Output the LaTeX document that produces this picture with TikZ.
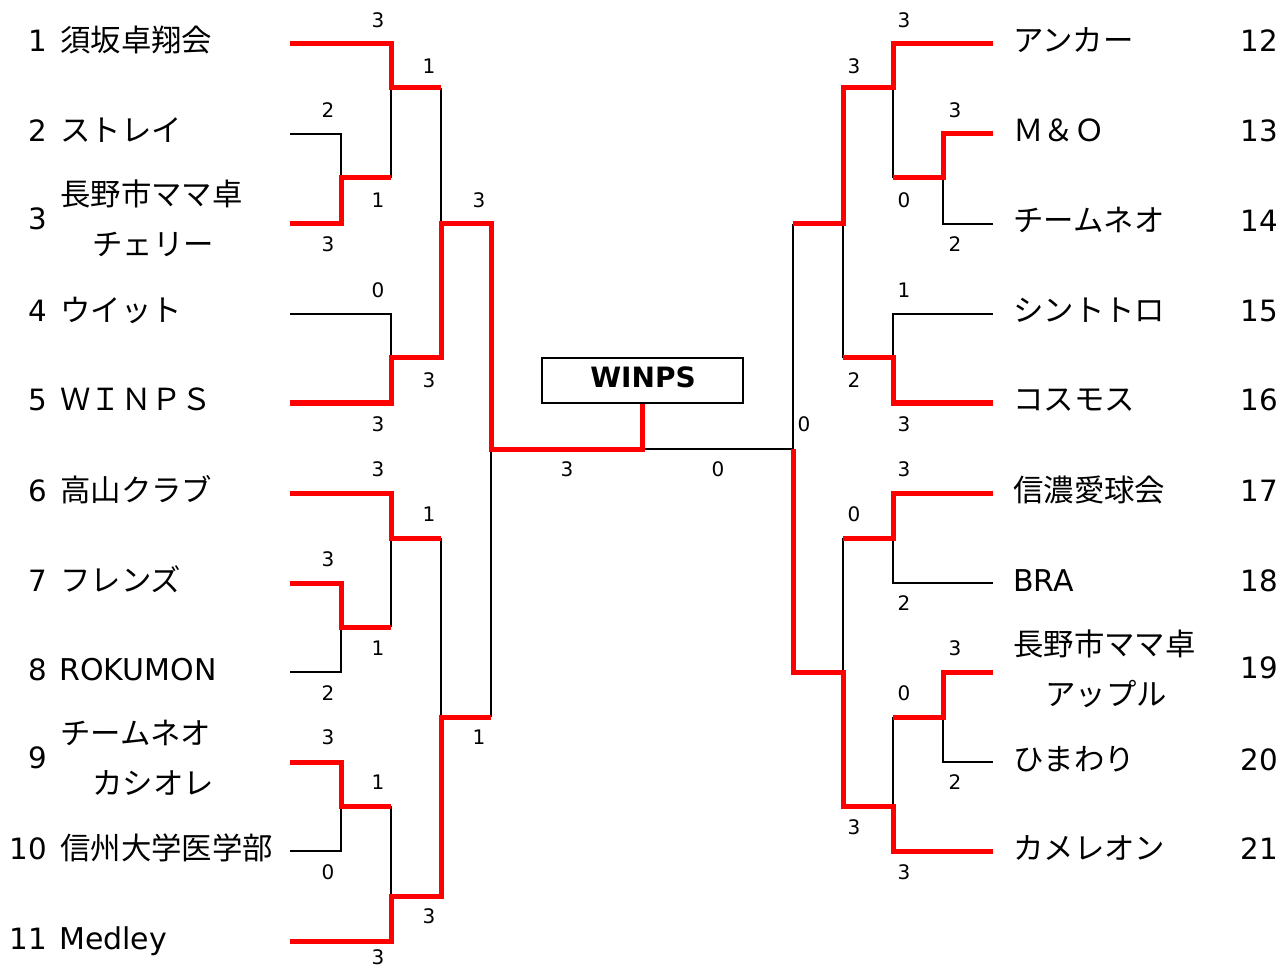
\documentclass[tikz,border=0pt]{standalone}
\usepackage{fontspec}
\setmainfont{DejaVu Sans}
\newfontfamily\jp{Noto Sans CJK JP}
\begin{document}
\begin{tikzpicture}[x=0.75pt,y=-0.75pt,
  redline/.style={draw={rgb,255:red,255;green,0;blue,0}, line width=3.75pt, line join=miter},
  blkline/.style={draw=black, line width=1.5pt},
  score/.style={inner sep=0pt, font=\fontsize{15}{18}\selectfont},
  tnum/.style={anchor=base east, inner sep=0pt, font=\fontsize{22}{26}\selectfont},
  lname/.style={anchor=base west, inner sep=0pt, font=\fontsize{22.5}{27}\selectfont},
  jname/.style={anchor=base west, inner sep=0pt, font=\jp\fontsize{22.8}{27}\selectfont}]
\useasboundingbox (0,0) rectangle (1280,969);
% leaf coordinates
\foreach \i/\y in {1/44,2/134,3/224,4/314,5/403,6/493,7/583,8/672,9/762,10/851,11/941}
  \coordinate (L\i) at (290,\y);
\foreach \i/\y in {12/44,13/134,14/224,15/314,16/403,17/493,18/583,19/672,20/762,21/851}
  \coordinate (R\i) at (993,\y);
% match pivots (vertical x, output y)
\coordinate (P23) at (341,178);
\coordinate (P1) at (391,88);
\coordinate (P45) at (391,358);
\coordinate (PA) at (441,224);
\coordinate (P78) at (341,627);
\coordinate (P6) at (391,538);
\coordinate (P910) at (341,806);
\coordinate (P11) at (391,896);
\coordinate (PB) at (441,717);
\coordinate (PL) at (491,449);
\coordinate (P1314) at (943,178);
\coordinate (P12) at (893,88);
\coordinate (P1516) at (893,358);
\coordinate (PC) at (843,224);
\coordinate (P1718) at (893,538);
\coordinate (P1920) at (943,717);
\coordinate (P21) at (893,806);
\coordinate (PD) at (843,672);
\coordinate (PR) at (793,449);
% champion box
\node[draw, line width=1.5pt, minimum width=150.75pt, minimum height=33.75pt, inner sep=0pt] (box) at (642.5,380.5) {};
\node[inner sep=0pt, font=\bfseries\fontsize{21}{25}\selectfont] (wtxt) at (643,377) {WINPS};
% black (losing) lines
\draw[blkline] (L2) -| (P23);
\draw[blkline] (P23 -| P1) -- (P1);
\draw[blkline] (P1 -| PA) -- (PA);
\draw[blkline] (L4) -| (P45);
\draw[blkline] (PB -| PL) -- (PL);
\draw[blkline] (L8) -| (P78);
\draw[blkline] (P78 -| P6) -- (P6);
\draw[blkline] (P6 -| PB) -- (PB);
\draw[blkline] (L10) -| (P910);
\draw[blkline] (P910 -| P11) -- (P11);
\draw[blkline] (box.south |- PL) -- (PR);
\draw[blkline] (PC -| PR) -- (PR);
\draw[blkline] (P1314 -| P12) -- (P12);
\draw[blkline] (R14) -| (P1314);
\draw[blkline] (R15) -| (P1516);
\draw[blkline] (P1516 -| PC) -- (PC);
\draw[blkline] (P1718 -| PD) -- (PD);
\draw[blkline] (R18) -| (P1718);
\draw[blkline] (P1920 -| P21) -- (P21);
\draw[blkline] (R20) -| (P1920);
% red (winning) lines
\draw[redline] (L1) -| (P1) -- (P1 -| PA);
\draw[redline] (L3) -| (P23) -- (P23 -| P1);
\draw[redline] (L5) -| (P45) -| (PA) -| (PL) -| (box.south);
\draw[redline] (L6) -| (P6) -- (P6 -| PB);
\draw[redline] (L7) -| (P78) -- (P78 -| P6);
\draw[redline] (L9) -| (P910) -- (P910 -| P11);
\draw[redline] (L11) -| (P11) -| (PB) -- (PB -| PL);
\draw[redline] (R12) -| (P12) -| (PC) -- (PC -| PR);
\draw[redline] (R13) -| (P1314) -- (P1314 -| P12);
\draw[redline] (R16) -| (P1516) -- (P1516 -| PC);
\draw[redline] (R17) -| (P1718) -- (P1718 -| PD);
\draw[redline] (R19) -| (P1920) -- (P1920 -| P21);
\draw[redline] (R21) -| (P21) -| (PD) -| (PR);
% left team labels
\foreach \n/\y/\t in {1/44/須坂卓翔会, 2/134/ストレイ, 4/314/ウイット, 5/403/ＷＩＮＰＳ,
                      6/493/高山クラブ, 7/583/フレンズ, 10/851/信州大学医学部}{
  \node[tnum] (n\n) at (47,\y+8) {\n};
  \node[jname] (t\n) at (60,\y+8) {\t};
}
\foreach \n/\y/\t in {8/672/ROKUMON, 11/941/Medley}{
  \node[tnum] (n\n) at (47,\y+8) {\n};
  \node[lname] (t\n) at (59,\y+8) {\t};
}
\node[tnum] (n3) at (47,230) {3};
\node[jname] (t3a) at (60,206) {長野市ママ卓};
\node[jname] (t3b) at (92,256) {チェリー};
\node[tnum] (n9) at (47,768) {9};
\node[jname] (t9a) at (60,744) {チームネオ};
\node[jname] (t9b) at (92,794) {カシオレ};
% right team labels
\foreach \n/\y/\t in {12/44/アンカー, 13/134/Ｍ＆Ｏ, 14/224/チームネオ, 15/314/シントトロ,
                      16/403/コスモス, 17/493/信濃愛球会, 20/762/ひまわり, 21/851/カメレオン}{
  \node[tnum] (n\n) at (1278,\y+8) {\n};
  \node[jname] (t\n) at (1013,\y+8) {\t};
}
\node[tnum] (n18) at (1278,591) {18};
\node[lname] (t18) at (1013,591) {BRA};
\node[tnum] (n19) at (1278,678) {19};
\node[jname] (t19a) at (1013,655) {長野市ママ卓};
\node[jname] (t19b) at (1045,705) {アップル};
% scores
\foreach \x/\y/\s [count=\k] in {
  378/20/3, 429/66/1, 328/110/2, 378/200/1, 328/244/3, 479/200/3, 378/290/0, 429/380/3, 378/424/3,
  378/469/3, 429/514/1, 328/559/3, 378/648/1, 328/693/2, 328/737/3, 378/782/1, 328/872/0, 429/916/3,
  378/957/3, 479/737/1, 567/469/3, 718/469/0,
  904/20/3, 854/66/3, 955/110/3, 904/200/0, 955/244/2, 904/290/1, 854/380/2, 804/424/0, 904/424/3,
  904/469/3, 854/514/0, 904/603/2, 955/648/3, 904/693/0, 955/782/2, 854/827/3, 904/872/3}
  \node[score] (s\k) at (\x,\y) {\s};
\end{tikzpicture}
\end{document}
